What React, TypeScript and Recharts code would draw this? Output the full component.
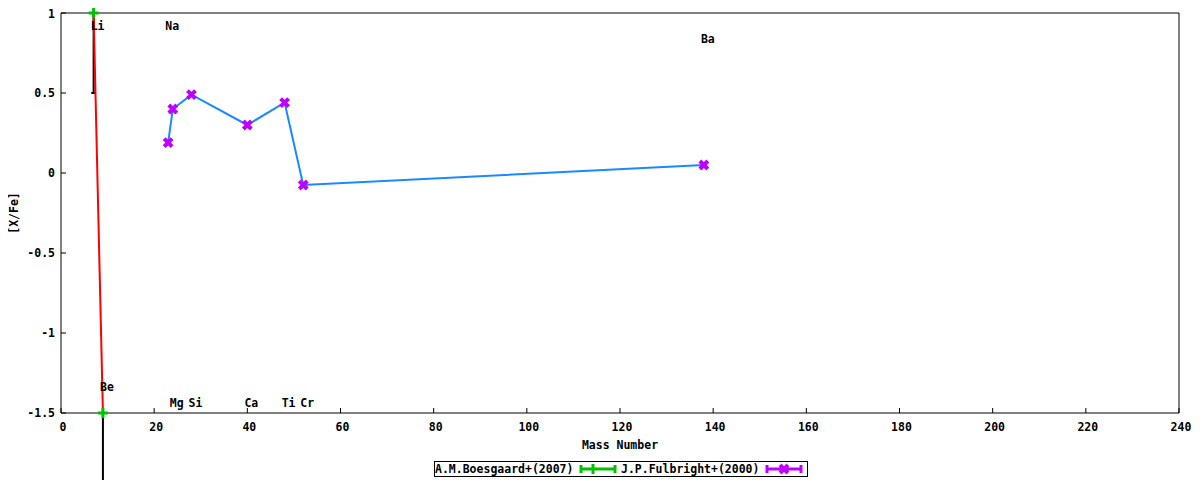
import React from 'react';
import { ScatterChart, Scatter, XAxis, YAxis, ReferenceLine } from 'recharts';

// ---- data ----
const boesgaardMass = [7, 9];
const boesgaardXFe = [1.0, -1.5];
const boesgaardErrLow = [0.5, 0.5];

const fulbrightMass = [23, 24, 28, 40, 48, 52, 138];
const fulbrightXFe = [0.19, 0.4, 0.49, 0.3, 0.44, -0.075, 0.05];

const elementNames = ['Li', 'Be', 'Na', 'Mg', 'Si', 'Ca', 'Ti', 'Cr', 'Ba'];
const elementMass = [7, 9, 23, 24, 28, 40, 48, 52, 138];
const elementLabelY = [0.92, -1.34, 0.92, -1.44, -1.44, -1.44, -1.44, -1.44, 0.84];

const xTicks = [0, 20, 40, 60, 80, 100, 120, 140, 160, 180, 200, 220, 240];
const yTicks = [-1.5, -1, -0.5, 0, 0.5, 1];

const seriesNames = ['A.M.Boesgaard+(2007)', 'J.P.Fulbright+(2000)'];

// ---- derived tables ----
const boesgaardData = boesgaardMass.map((x, i) => ({ x, y: boesgaardXFe[i], err: boesgaardErrLow[i] }));
const fulbrightData = fulbrightMass.map((x, i) => ({ x, y: fulbrightXFe[i] }));
const labelData = elementNames.map((name, i) => ({ x: elementMass[i], y: elementLabelY[i], name }));

const FONT = "'DejaVu Sans Mono', 'Liberation Mono', monospace";
const GREEN = '#00c000';
const PURPLE = '#c000ff';
const BLUE = '#1a88ff';
const RED = '#ff0000';

const PlusShape = (p: any) => {
  const { cx, cy } = p;
  if (cx == null || cy == null) return null;
  return (
    <g>
      <line x1={cx - 5} y1={cy} x2={cx + 5} y2={cy} stroke={GREEN} strokeWidth={3} />
      <line x1={cx} y1={cy - 5} x2={cx} y2={cy + 5} stroke={GREEN} strokeWidth={3} />
    </g>
  );
};

const CrossShape = (p: any) => {
  const { cx, cy } = p;
  if (cx == null || cy == null) return null;
  return (
    <g>
      <path d={`M${cx - 4},${cy - 4}L${cx + 4},${cy + 4}M${cx - 4},${cy + 4}L${cx + 4},${cy - 4}`} stroke={PURPLE} strokeWidth={4} />
    </g>
  );
};

const LabelShape = (p: any) => {
  const { cx, cy, payload } = p;
  if (cx == null || cy == null) return null;
  return (
    <text x={cx + 4} y={cy} textAnchor="middle" dominantBaseline="central" fontFamily={FONT} fontWeight="bold" fontSize={11.5} fill="#000">
      {payload.name}
    </text>
  );
};

const tickStyle = { fill: '#000', fontSize: 11.5, fontFamily: FONT, fontWeight: 'bold' };

const Legend = () => (
  <div style={{ position: 'absolute', left: 426, top: 453, width: 372, height: 14, border: '1px solid #000', background: '#fff' }}>
    <svg width={372} height={14} style={{ display: 'block' }}>
      <text x={0} y={7} dominantBaseline="central" fontFamily={FONT} fontWeight="bold" fontSize={11.5} fill="#000">{seriesNames[0]}</text>
      <g>
        <line x1={146} y1={7} x2={180} y2={7} stroke={GREEN} strokeWidth={3} />
        <line x1={146} y1={3} x2={146} y2={11} stroke={GREEN} strokeWidth={3} />
        <line x1={180} y1={3} x2={180} y2={11} stroke={GREEN} strokeWidth={3} />
        <line x1={158} y1={2} x2={158} y2={12} stroke={GREEN} strokeWidth={3} />
      </g>
      <text x={186} y={7} dominantBaseline="central" fontFamily={FONT} fontWeight="bold" fontSize={11.5} fill="#000">{seriesNames[1]}</text>
      <g>
        <line x1={332} y1={7} x2={366} y2={7} stroke={PURPLE} strokeWidth={3} />
        <line x1={332} y1={3} x2={332} y2={11} stroke={PURPLE} strokeWidth={3} />
        <line x1={366} y1={3} x2={366} y2={11} stroke={PURPLE} strokeWidth={3} />
        <path d="M345,3L353,11M345,11L353,3" stroke={PURPLE} strokeWidth={4} />
      </g>
    </svg>
  </div>
);

export default function App() {
  return (
    <div style={{ position: 'relative', width: 1184, height: 472 }}>
      <ScatterChart width={1184} height={472} margin={{ top: 4, right: 12, bottom: 47, left: 0 }}>
        <XAxis
          xAxisId="b"
          type="number"
          dataKey="x"
          domain={[0, 240]}
          ticks={xTicks}
          orientation="bottom"
          height={20}
          stroke="#000"
          tickSize={-5}
          tickMargin={15}
          tick={{ ...tickStyle, dx: 2 }}
          label={{ value: 'Mass Number', position: 'bottom', offset: 8, style: { ...tickStyle } }}
        />
        <XAxis
          xAxisId="t"
          type="number"
          domain={[0, 240]}
          ticks={xTicks}
          orientation="top"
          height={1}
          allowDataOverflow
          stroke="#000"
          tickSize={-5}
          tick={false}
        />
        <YAxis
          yAxisId="l"
          type="number"
          dataKey="y"
          domain={[-1.5, 1]}
          ticks={yTicks}
          orientation="left"
          width={53}
          stroke="#000"
          tickSize={-5}
          tickMargin={11}
          tick={tickStyle}
          label={{ value: '[X/Fe]', angle: -90, position: 'insideLeft', offset: 6, style: { ...tickStyle, textAnchor: 'middle' } }}
        />
        <YAxis
          yAxisId="r"
          type="number"
          domain={[-1.5, 1]}
          ticks={yTicks}
          orientation="right"
          width={1}
          allowDataOverflow
          stroke="#000"
          tickSize={-5}
          tick={false}
        />
        {boesgaardData.map((d, i) => (
          <ReferenceLine
            key={'eb' + i}
            xAxisId="b"
            yAxisId="l"
            ifOverflow="visible"
            segment={[{ x: d.x, y: d.y }, { x: d.x, y: d.y - d.err }]}
            stroke="#000"
            strokeWidth={2}
          />
        ))}
        {boesgaardData.map((d, i) => (
          <ReferenceLine
            key={'cap' + i}
            xAxisId="b"
            yAxisId="l"
            ifOverflow="visible"
            segment={[{ x: d.x - 0.5, y: d.y - d.err }, { x: d.x + 0.3, y: d.y - d.err }]}
            stroke="#000"
            strokeWidth={2}
          />
        ))}
        <Scatter
          xAxisId="b"
          yAxisId="l"
          data={boesgaardData}
          line={{ stroke: RED, strokeWidth: 2 }}
          lineType="joint"
          shape={PlusShape}
          isAnimationActive={false}
        />
        <Scatter
          xAxisId="b"
          yAxisId="l"
          data={fulbrightData}
          line={{ stroke: BLUE, strokeWidth: 2 }}
          lineType="joint"
          shape={CrossShape}
          isAnimationActive={false}
        />
        <Scatter xAxisId="b" yAxisId="l" data={labelData} shape={LabelShape} isAnimationActive={false} />
      </ScatterChart>
      <Legend />
    </div>
  );
}
